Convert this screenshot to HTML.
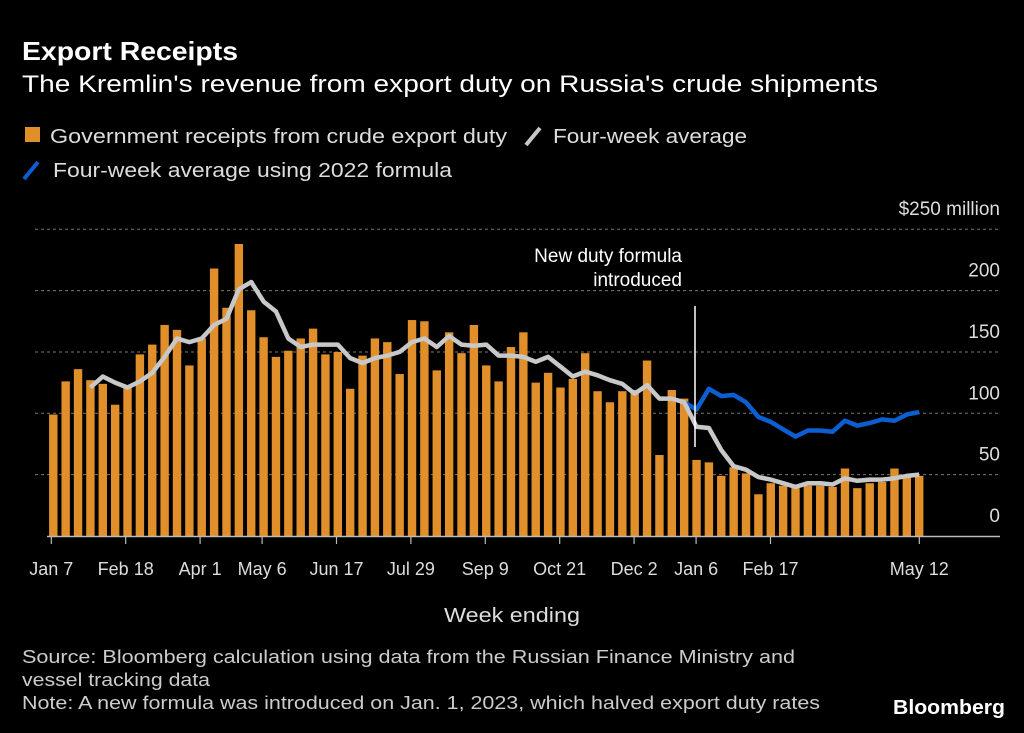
<!DOCTYPE html>
<html><head><meta charset="utf-8"><style>
body{margin:0;background:#000;}
svg{display:block;font-family:"Liberation Sans",sans-serif;}
</style></head><body>
<svg id="chart" width="1024" height="733" viewBox="0 0 1024 733">
<rect width="1024" height="733" fill="#000"/>
<text x="22" y="60" fill="#fff" font-size="26" font-weight="bold" textLength="216" lengthAdjust="spacingAndGlyphs">Export Receipts</text>
<text x="22" y="92" fill="#fff" font-size="24" textLength="856" lengthAdjust="spacingAndGlyphs">The Kremlin's revenue from export duty on Russia's crude shipments</text>
<rect x="25" y="127" width="15" height="15" fill="#e18f2a"/>
<text x="50" y="143" fill="#ddd" font-size="20" textLength="457" lengthAdjust="spacingAndGlyphs">Government receipts from crude export duty</text>
<line x1="526" y1="145" x2="540" y2="128" stroke="#c8c8c8" stroke-width="4"/>
<text x="553" y="143" fill="#ddd" font-size="20" textLength="194" lengthAdjust="spacingAndGlyphs">Four-week average</text>
<line x1="24" y1="179" x2="38" y2="162" stroke="#0b5fd0" stroke-width="4"/>
<text x="53" y="177" fill="#ddd" font-size="20" textLength="399" lengthAdjust="spacingAndGlyphs">Four-week average using 2022 formula</text>
<text x="1000" y="215" fill="#ddd" font-size="19" text-anchor="end">$250 million</text>
<g id="grid"></g>
<g id="bars"></g>
<g id="lines"></g>
<g id="xaxis"></g>
<line x1="695" y1="306" x2="695" y2="447" stroke="#fff" stroke-width="1.5"/>
<text x="682" y="262" fill="#fff" font-size="19" text-anchor="end">New duty formula</text>
<text x="682" y="286" fill="#fff" font-size="19" text-anchor="end">introduced</text>
<text x="512" y="622" fill="#ddd" font-size="20" text-anchor="middle" textLength="136" lengthAdjust="spacingAndGlyphs">Week ending</text>
<text x="22" y="663" fill="#ccc" font-size="18" textLength="773" lengthAdjust="spacingAndGlyphs">Source: Bloomberg calculation using data from the Russian Finance Ministry and</text>
<text x="22" y="686" fill="#ccc" font-size="18" textLength="188" lengthAdjust="spacingAndGlyphs">vessel tracking data</text>
<text x="22" y="709" fill="#ccc" font-size="18" textLength="798" lengthAdjust="spacingAndGlyphs">Note: A new formula was introduced on Jan. 1, 2023, which halved export duty rates</text>
<text x="893" y="714" fill="#fff" font-size="20" font-weight="bold" textLength="112" lengthAdjust="spacingAndGlyphs">Bloomberg</text>
</svg>
<script>
const receipts=[99,126,136,127,124,107,122,148,156,172,168,139,161,218,186,238,184,162,146,151,161,169,148,150,120,147,161,158,132,176,175,135,166,149,172,139,126,154,166,125,133,121,128,149,118,109,118,119,143,66,119,112,62,60,49,56,51,34,43,41,39,41,41,40,55,39,43,44,55,48,49];
const avg=[null,null,null,121,130,125,121,126,133,146,161,158,161,172,177,201,207,191,183,161,154,156,156,156,145,141,145,147,150,158,161,154,163,156,155,156,147,147,146,142,146,138,130,134,131,127,124,116,123,112,112,109,89,88,70,57,54,48,46,43,40,43,43,42,47,45,46,46,47,49,50];
const avg2022=[109,103,120,114,115,109,97,93,87,81,86,86,85,94,90,92,95,94,99,101];
const avg2022Start=51;
const yTicks=[0,50,100,150,200];
const xTickIdx=[0,6,12,17,23,29,35,41,47,52,58,70];
const xTickLabels=["Jan 7","Feb 18","Apr 1","May 6","Jun 17","Jul 29","Sep 9","Oct 21","Dec 2","Jan 6","Feb 17","May 12"];
const NS="http://www.w3.org/2000/svg";
const x=i=>53.3+i*12.37;
const y=v=>536-v*1.227;
function mk(tag,attrs,parent){const e=document.createElementNS(NS,tag);for(const k in attrs)e.setAttribute(k,attrs[k]);parent.appendChild(e);return e;}
const grid=document.getElementById('grid');
[...yTicks,250].forEach(v=>{
  if(v>0){const l=mk('line',{x1:35,x2:1000,y1:y(v),y2:y(v),stroke:'#777','stroke-width':1,'stroke-dasharray':'3,3'},grid);
  
  }
  if(v<250){const t=mk('text',{x:1000,y:y(v)-14,fill:'#ddd','font-size':19,'text-anchor':'end'},grid);t.textContent=v;
  
  }
});
const bars=document.getElementById('bars');
receipts.forEach((v,i)=>{const r=mk('rect',{x:x(i)-4.2,y:y(v),width:8.4,height:y(0)-y(v),fill:'#e18f2a'},bars);

});
const lines=document.getElementById('lines');
const bp=avg2022.map((v,k)=>x(k+avg2022Start).toFixed(1)+','+y(v).toFixed(1)).join(' ');
const bl=mk('polyline',{points:bp,fill:'none',stroke:'#0b5fd0','stroke-width':4.5,'stroke-linejoin':'round'},lines);


const gp=avg.map((v,i)=>v==null?null:x(i).toFixed(1)+','+y(v).toFixed(1)).filter(s=>s).join(' ');
const gl=mk('polyline',{points:gp,fill:'none',stroke:'#c8c8c8','stroke-width':4.5,'stroke-linejoin':'round'},lines);


const xa=document.getElementById('xaxis');
const base=mk('line',{x1:47,x2:1000,y1:y(0)+0.5,y2:y(0)+0.5,stroke:'#bbb','stroke-width':1.5},xa);


xTickIdx.forEach((i,k)=>{const tx=x(i)-2+i*0.03;
  const tk=mk('line',{x1:tx,x2:tx,y1:y(0),y2:y(0)+8,stroke:'#bbb','stroke-width':1.2},xa);
  
  
  const t=mk('text',{x:tx,y:575,fill:'#ddd','font-size':18,'text-anchor':'middle'},xa);t.textContent=xTickLabels[k];
  
  
});
</script>
</body></html>
